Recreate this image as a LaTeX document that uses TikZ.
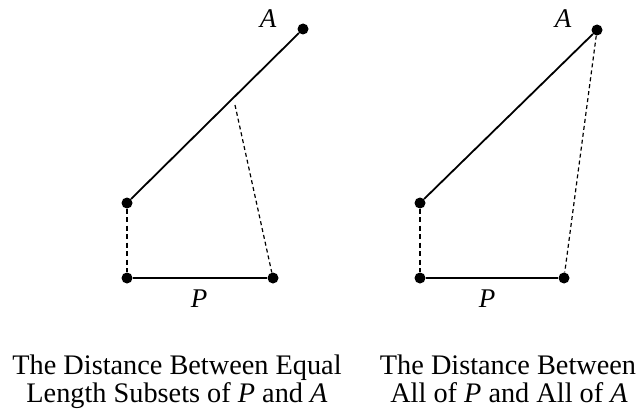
\documentclass[tikz,border=0pt]{standalone}
\usepackage{fontspec}
\setmainfont{Liberation Serif}
\begin{document}
\begin{tikzpicture}[x=1pt,y=-1pt,
  dot/.style={circle,fill=black,inner sep=0pt,minimum size=11pt},
  seg/.style={line width=1.8pt},
  vdash/.style={line width=2.6pt,dash pattern=on 5pt off 3.5pt},
  thindash/.style={line width=1.2pt,dash pattern=on 4pt off 3pt},
  lbl/.style={font=\fontsize{27}{28}\selectfont\itshape,anchor=base,inner sep=0pt},
  captext/.style={font=\fontsize{28.3}{28}\selectfont,anchor=base,inner sep=0pt}]
\useasboundingbox (0,0) rectangle (643,412);
% left figure
\node[dot] (la) at (303,29) {};
\node[dot] (lb) at (127,203) {};
\node[dot] (lc) at (127,278) {};
\node[dot] (ld) at (273,278) {};
\draw[seg] (la) -- (lb);
\draw[vdash] (lb) -- (lc);
\draw[seg] (lc) -- (ld);
\coordinate (lm) at (235,105);
\draw[thindash] (lm) -- (ld);
\node[lbl] (lA) at (268,28) {A};
\node[lbl] (lP) at (199,307) {P};
% right figure
\node[dot] (ra) at (597,30) {};
\node[dot] (rb) at (420,203) {};
\node[dot] (rc) at (420,278) {};
\node[dot] (rd) at (564,278) {};
\draw[seg] (ra) -- (rb);
\draw[vdash] (rb) -- (rc);
\draw[seg] (rc) -- (rd);
\draw[thindash] (ra) -- (rd);
\node[lbl] (rA) at (563,28) {A};
\node[lbl] (rP) at (487,307) {P};
% captions
\node[captext] (lcap1) at (177,374) {The Distance Between Equal};
\node[captext] (lcap2) at (177,402) {Length Subsets of \textit{P} and \textit{A}};
\node[captext] (rcap1) at (508,374) {The Distance Between};
\node[captext] (rcap2) at (509,402) {All of \textit{P} and All of \textit{A}};
\end{tikzpicture}
\end{document}
